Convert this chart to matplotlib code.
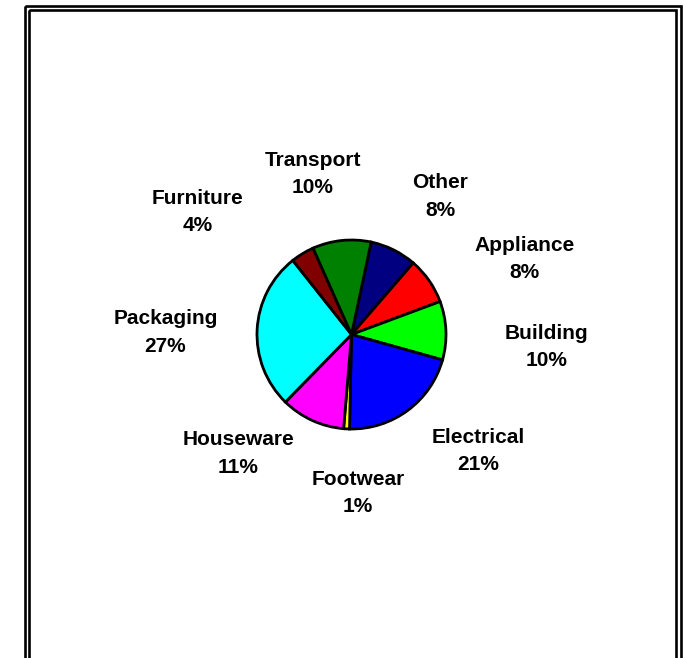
"""
Pie chart of market share by end use, with double frame.
"""

import matplotlib.pyplot as plt
import matplotlib.patches as patches

# data, clockwise from the top
categories = ['Other', 'Appliance', 'Building', 'Electrical', 'Footwear',
              'Houseware', 'Packaging', 'Furniture', 'Transport']
shares = [8, 8, 10, 21, 1, 11, 27, 4, 10]
colors = ['#000080', '#FF0000', '#00FF00', '#0000FF', '#FFFF00',
          '#FF00FF', '#00FFFF', '#800000', '#008000']

# label block centres, in pie radii from the centre (layout only)
label_offsets = [(0.94, 1.46), (1.83, 0.80), (2.06, -0.13), (1.34, -1.23),
                 (0.07, -1.68), (-1.20, -1.26), (-1.97, 0.02),
                 (-1.63, 1.30), (-0.41, 1.70)]


def main():
    W, H = 685, 658
    fig = plt.figure(figsize=(W / 100, H / 100), dpi=100)

    # double frame around the chart (bottom edge is cut off)
    frame = fig.add_axes([0, 0, 1, 1])
    frame.set_xlim(0, W)
    frame.set_ylim(H, 0)
    frame.axis('off')
    frame.add_patch(patches.Rectangle((25, 6), 656, 700, fill=False,
                                      edgecolor='black', linewidth=1.9))
    frame.add_patch(patches.Rectangle((29, 10), 647, 700, fill=False,
                                      edgecolor='black', linewidth=1.9))

    # pie axes: centre (351.5, 334.5) px, radius 94.5 px
    cx, cy, r = 351.5, 334.5, 94.5
    ax = fig.add_axes([(cx - r) / W, (H - cy - r) / H, 2 * r / W, 2 * r / H])
    wedges, _ = ax.pie(shares, colors=colors, startangle=78, counterclock=False,
                       wedgeprops=dict(edgecolor='black', linewidth=2.0))
    for w in wedges:
        w.set_clip_on(False)
    ax.set_xlim(-1, 1)
    ax.set_ylim(-1, 1)
    ax.axis('off')

    for name, val, (dx, dy) in zip(categories, shares, label_offsets):
        ax.text(dx, dy, f'{name}\n{val}%', ha='center', va='center',
                fontsize=15, fontweight='bold', family='Liberation Sans',
                linespacing=1.55, clip_on=False)

    plt.savefig('out.png', dpi=100)
    plt.close()


if __name__ == "__main__":
    main()
